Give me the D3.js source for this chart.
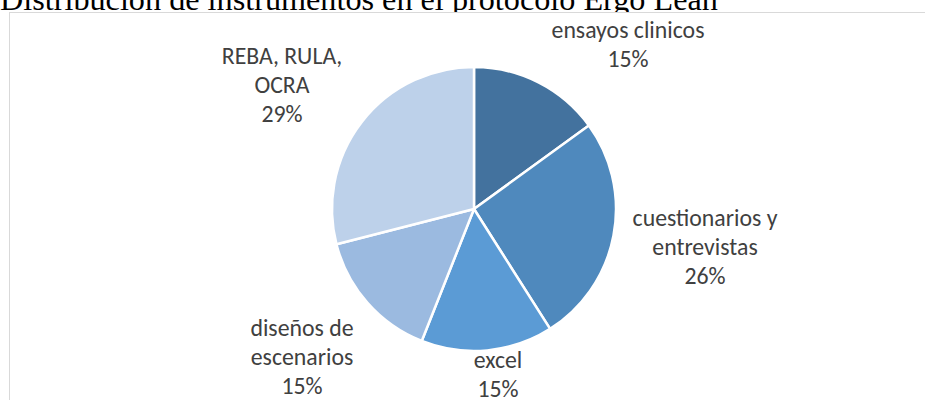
<!DOCTYPE html>
<html>
<head>
<meta charset="utf-8">
<script src="https://cdn.jsdelivr.net/npm/d3@7"></script>
<style>
  html, body { margin: 0; padding: 0; background: #ffffff; }
  svg { display: block; }
</style>
</head>
<body>
<svg id="chart" width="925" height="400"></svg>
<script>
// ---- data ----
const title = "Distribución de instrumentos en el protocolo Ergo Lean";
const categories = ["ensayos clinicos", "cuestionarios y entrevistas", "excel", "diseños de escenarios", "REBA, RULA, OCRA"];
const values = [15, 26, 15, 15, 29];
const labelLines = [
  ["ensayos clinicos"],
  ["cuestionarios y", "entrevistas"],
  ["excel"],
  ["diseños de", "escenarios"],
  ["REBA, RULA,", "OCRA"]
];
const colors = ["#43729e", "#4f89bd", "#5b9bd5", "#9bbae0", "#bdd1ea"];

// ---- layout ----
const W = 925, H = 400;
const cx = 474, cy = 209, R = 142;
// label block centers (Excel "best fit" placement)
const labelCenters = [[628, 45], [705, 247], [498, 375], [302, 357], [282, 85]];
const lineH = 29;

const svg = d3.select("#chart");

// title (partly hidden behind chart area, as in the reference)
const t = svg.append("text")
  .attr("x", 0).attr("y", 9.5)
  .attr("font-family", "'Times New Roman', 'Liberation Serif', serif")
  .attr("font-size", 30)
  .attr("fill", "#000")
  .text(title);
const tw = t.node().getComputedTextLength();
t.attr("font-size", 30 * 718 / tw);

// chart area
svg.append("rect")
  .attr("x", 9.5).attr("y", 12.5)
  .attr("width", W + 20).attr("height", H + 20)
  .attr("fill", "#ffffff")
  .attr("stroke", "#d9d9d9").attr("stroke-width", 1);

const pie = d3.pie().sort(null).value(d => d)
  .startAngle(0).endAngle(2 * Math.PI);
const arcs = pie(values);
const arc = d3.arc().innerRadius(0).outerRadius(R);

const g = svg.append("g").attr("transform", `translate(${cx},${cy})`);
g.selectAll("path.slice")
  .data(arcs)
  .join("path")
  .attr("class", "slice")
  .attr("d", arc)
  .attr("fill", (d, i) => colors[i])
  .attr("stroke", "#ffffff")
  .attr("stroke-width", 2.5)
  .attr("stroke-linejoin", "round");

// labels
const fontFam = "Carlito, Calibri, Lato, 'Noto Sans', sans-serif";
// size font so that "ensayos clinicos" ≈ 153px wide
const probe = svg.append("text").attr("font-family", fontFam).attr("font-size", 100).text("ensayos clinicos");
const fs = 100 * 153 / probe.node().getComputedTextLength();
probe.remove();

const fmt = d3.format(".0f");
arcs.forEach((a, i) => {
  const lines = labelLines[i].concat([fmt(values[i]) + "%"]);
  const [lx, ly] = labelCenters[i];
  const n = lines.length;
  const txt = svg.append("text")
    .attr("font-family", fontFam)
    .attr("font-size", fs)
    .attr("fill", "#404040")
    .attr("text-anchor", "middle");
  lines.forEach((ln, j) => {
    txt.append("tspan")
      .attr("x", lx)
      .attr("y", ly + (j - (n - 1) / 2) * lineH + fs * 0.33)
      .text(ln);
  });
});
</script>
</body>
</html>
